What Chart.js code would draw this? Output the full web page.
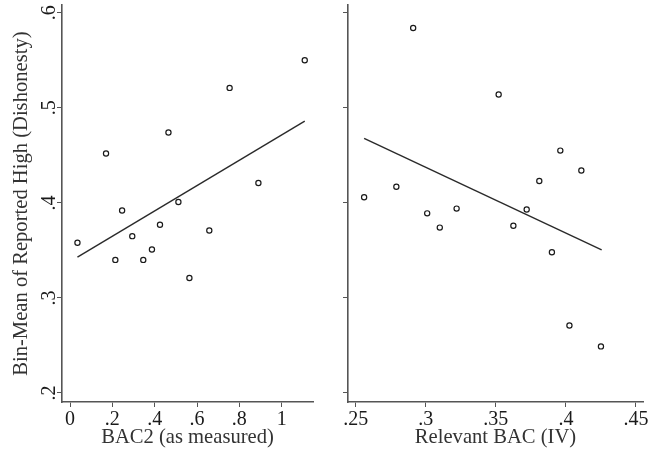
<!DOCTYPE html>
<html>
<head>
<meta charset="utf-8">
<script src="https://cdn.jsdelivr.net/npm/chart.js@4"></script>
<style>
  html, body { margin: 0; padding: 0; background: #fff; }
  #wrap { position: relative; width: 649px; height: 454px; }
  canvas { position: absolute; top: 0; }
</style>
</head>
<body>
<div id="wrap">
  <canvas id="left" width="330" height="454" style="left:0"></canvas>
  <canvas id="right" width="319" height="454" style="left:330px"></canvas>
</div>
<script>
// shared y axis
const yTicks = [0.2, 0.3, 0.4, 0.5, 0.6];
const yTickLabels = [".2", ".3", ".4", ".5", ".6"];

// left panel: BAC2 (as measured)
const leftX = [0.035, 0.170, 0.214, 0.246, 0.294, 0.346, 0.387, 0.425, 0.465, 0.512, 0.564, 0.658, 0.754, 0.890, 1.109];
const leftY = [0.358, 0.452, 0.340, 0.392, 0.365, 0.340, 0.351, 0.377, 0.474, 0.401, 0.321, 0.371, 0.521, 0.421, 0.550];
const leftFitX = [0.035, 1.109];
const leftFitY = [0.343, 0.486];
const leftXTicks = [0, 0.2, 0.4, 0.6, 0.8, 1];
const leftXTickLabels = ["0", ".2", ".4", ".6", ".8", "1"];

// right panel: Relevant BAC (IV)
const rightX = [0.256, 0.279, 0.291, 0.301, 0.310, 0.322, 0.352, 0.3625, 0.372, 0.381, 0.390, 0.396, 0.4025, 0.411, 0.425];
const rightY = [0.406, 0.417, 0.584, 0.389, 0.374, 0.394, 0.514, 0.376, 0.393, 0.423, 0.348, 0.455, 0.271, 0.434, 0.249];
const rightFitX = [0.256, 0.4255];
const rightFitY = [0.468, 0.3505];
const rightXTicks = [0.25, 0.3, 0.35, 0.4, 0.45];
const rightXTickLabels = [".25", ".3", ".35", ".4", ".45"];

const ink = "#1a1a1a";
const axisGrey = "#555";
const serif = "'Liberation Serif', 'DejaVu Serif', serif";

function toPoints(xs, ys) {
  return xs.map((x, i) => ({ x: x, y: ys[i] }));
}

function setTicks(values) {
  return (scale) => { scale.ticks = values.map((v) => ({ value: v })); };
}

function labelFrom(values, labels) {
  return (v) => {
    const i = values.findIndex((t) => Math.abs(t - v) < 1e-9);
    return i >= 0 ? labels[i] : "";
  };
}

function makePanel(id, opts) {
  const ctx = document.getElementById(id).getContext("2d");
  new Chart(ctx, {
    type: "scatter",
    data: {
      datasets: [
        {
          data: toPoints(opts.x, opts.y),
          pointStyle: "circle",
          pointRadius: 2.6,
          pointBorderWidth: 1.2,
          borderColor: ink,
          backgroundColor: "#fff",
          showLine: false,
        },
        {
          data: toPoints(opts.fitX, opts.fitY),
          showLine: true,
          pointRadius: 0,
          borderColor: "#2a2a2a",
          borderWidth: 1.4,
          fill: false,
        },
      ],
    },
    options: {
      responsive: false,
      animation: false,
      events: [],
      layout: { padding: { top: 5, right: opts.padRight, bottom: 0, left: 0 } },
      plugins: { legend: { display: false }, tooltip: { enabled: false } },
      scales: {
        x: {
          type: "linear",
          min: opts.xMin,
          max: opts.xMax,
          afterBuildTicks: setTicks(opts.xTicks),
          afterFit: (scale) => {
            scale.height = 52;
            scale.paddingLeft = 0;
            scale.paddingRight = 0;
          },
          border: { display: true, color: axisGrey, width: 1.6 },
          grid: { drawOnChartArea: false, drawTicks: true, tickLength: 5, color: axisGrey, tickWidth: 1 },
          ticks: {
            padding: 1,
            color: ink,
            font: { family: serif, size: 20 },
            maxRotation: 0,
            autoSkip: false,
            callback: labelFrom(opts.xTicks, opts.xTickLabels),
          },
          title: {
            display: true,
            text: opts.xTitle,
            color: "#333",
            font: { family: serif, size: 20.6 },
            padding: { top: 0, bottom: 4 },
          },
        },
        y: {
          type: "linear",
          min: 0.1905,
          max: 0.608,
          afterBuildTicks: setTicks(yTicks),
          afterFit: (scale) => {
            scale.width = opts.yWidth;
            scale.paddingTop = 0;
            scale.paddingBottom = 0;
          },
          border: { display: true, color: axisGrey, width: 1.6 },
          grid: { drawOnChartArea: false, drawTicks: true, tickLength: 5, color: axisGrey, tickWidth: 1 },
          ticks: {
            display: opts.yLabels,
            padding: 0,
            color: ink,
            crossAlign: "center",
            minRotation: 90,
            maxRotation: 90,
            font: { family: serif, size: 20 },
            callback: labelFrom(yTicks, yTickLabels),
          },
          title: {
            display: opts.yLabels,
            text: "Bin-Mean of Reported High (Dishonesty)",
            color: "#333",
            font: { family: serif, size: 20.6 },
            padding: { top: 9, bottom: 0 },
          },
        },
      },
    },
  });
}

makePanel("left", {
  x: leftX, y: leftY, fitX: leftFitX, fitY: leftFitY,
  xMin: -0.038, xMax: 1.148,
  xTicks: leftXTicks, xTickLabels: leftXTickLabels,
  xTitle: "BAC2 (as measured)",
  yLabels: true, yWidth: 62, padRight: 17,
});

makePanel("right", {
  x: rightX, y: rightY, fitX: rightFitX, fitY: rightFitY,
  xMin: 0.2445, xMax: 0.455,
  xTicks: rightXTicks, xTickLabels: rightXTickLabels,
  xTitle: "Relevant BAC (IV)",
  yLabels: false, yWidth: 18, padRight: 6,
});
</script>
</body>
</html>
